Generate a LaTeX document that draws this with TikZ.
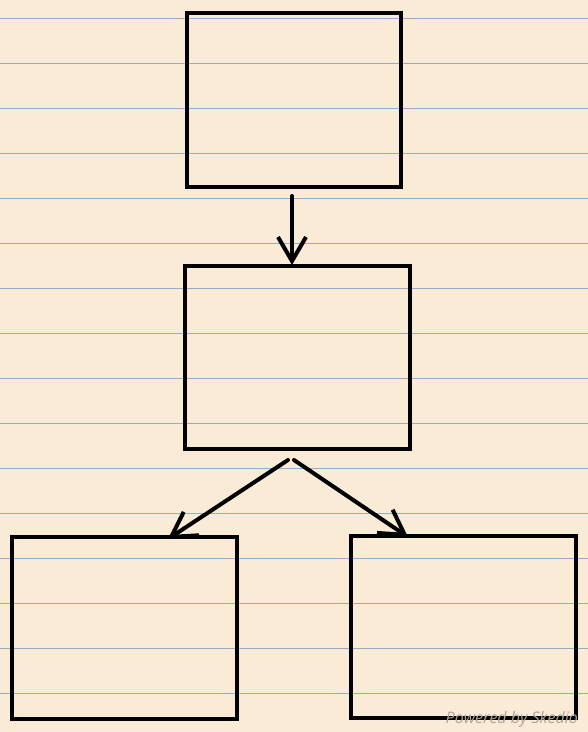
\documentclass[tikz,border=0pt]{standalone}
\usepackage{fontspec}
\newfontfamily\wmfont{Open Sans}
\usetikzlibrary{positioning,backgrounds,arrows.meta}
\definecolor{paper}{HTML}{FAEBD7}
\definecolor{rule}{HTML}{93ADC6}
\definecolor{wmgray}{HTML}{ADA59A}

\begin{document}
\begin{tikzpicture}[x=1pt,y=-1pt,
    box/.style={rectangle,draw,line width=4pt,inner sep=0pt,minimum width=225pt,minimum height=182pt},
    link/.style={line width=4pt,line cap=round,-{Straight Barb[length=24pt,width=28pt,line width=4pt]}}]
    \useasboundingbox (0,0) rectangle (588,732);
    \fill[paper] (0,0) rectangle (588,732);
    \foreach \k in {0,...,15}
      \draw[rule,line width=0.9pt] (0,18+45*\k) -- (588,18+45*\k);

    \node[box,minimum width=214pt,minimum height=174pt] (top) at (294,100) {};
    \node[box,minimum height=183pt] (mid) at (297.5,357.5) {};
    \node[box] (left) at (124.5,628) {};
    \node[box] (right) at (463.5,627) {};

    \coordinate (forkl) at ([xshift=-9.5pt,yshift=-9pt]mid.south);
    \coordinate (forkr) at ([xshift=-3.5pt,yshift=-9pt]mid.south);

    \path[link]
      ([xshift=-2pt,yshift=-7pt]top.south) edge ([xshift=-5.5pt,yshift=-1pt]mid.north)
      (forkl) edge ([xshift=43.5pt,yshift=-4pt]left.north)
      (forkr) edge ([xshift=-55.5pt,yshift=-3pt]right.north);

    \node[wmgray,font=\wmfont\itshape\fontsize{16pt}{16pt}\selectfont,anchor=base east,inner sep=0pt] (mark) at (578,723) {Powered by Skedio};
\end{tikzpicture}
\end{document}
